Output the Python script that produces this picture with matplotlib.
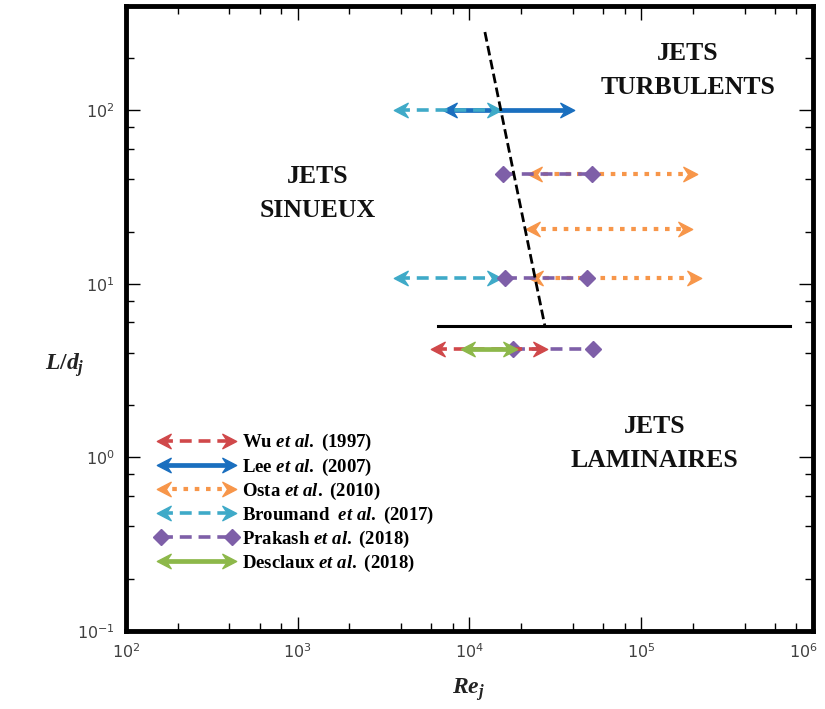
import numpy as np
import matplotlib
matplotlib.use("Agg")
import matplotlib.pyplot as plt
import matplotlib.transforms as mtransforms
from matplotlib.path import Path
from matplotlib.lines import Line2D
from matplotlib.legend_handler import HandlerBase
from matplotlib.ticker import LogLocator, NullFormatter

plt.rcParams['mathtext.fontset'] = 'custom'
plt.rcParams['mathtext.rm'] = 'Liberation Serif:bold'
plt.rcParams['mathtext.it'] = 'Liberation Serif:italic:bold'
plt.rcParams['mathtext.bf'] = 'Liberation Serif:bold'

#region Data (Re_j ranges and L/d_j levels)
wu_re = [(6300, 26800)]
wu_ld = [4.2]
lee_re = [(7400, 38500)]
lee_ld = [100]
osta_re = [(23100, 200000), (22500, 187000), (23400, 211000)]
osta_ld = [42.7, 20.8, 10.8]
broumand_re = [(3840, 14450), (3840, 14450)]
broumand_ld = [100, 10.8]
prakash_re = [(15700, 51600), (16100, 48300), (17900, 52400)]
prakash_ld = [42.7, 10.8, 4.2]
desclaux_re = [(9400, 17900)]
desclaux_ld = [4.2]

# regime boundaries
laminar_re = [6600, 740000]
laminar_ld = [5.7, 5.7]
sinuous_re = [12300, 27500]
sinuous_ld = [282, 5.7]

x_ticks = [1e2, 1e3, 1e4, 1e5, 1e6]
#endregion

#region Arrow heads
def head(direction):
    v = np.array([[-0.3, 0], [0.7, 0.52], [0.35, 0], [0.7, -0.52], [-0.3, 0]])
    v[:, 0] *= direction
    return Path(v, [Path.MOVETO, Path.LINETO, Path.LINETO, Path.LINETO, Path.CLOSEPOLY])

left_head = head(1)
right_head = head(-1)
#endregion

#region Styles
styles = {
    'Wu':       dict(color='#D0484A', lw=2.6, ls=(0, (3.3, 1.9)), heads='arrow'),
    'Lee':      dict(color='#1A6FBF', lw=3.4, ls='-', heads='arrow'),
    'Osta':     dict(color='#F7964A', lw=3.0, ls=(0, (1.1, 1.6)), heads='arrow'),
    'Broumand': dict(color='#3FAAC8', lw=2.6, ls=(0, (3.3, 1.9)), heads='arrow'),
    'Prakash':  dict(color='#7E5FA8', lw=2.6, ls=(0, (3.3, 1.9)), heads='diamond'),
    'Desclaux': dict(color='#8DB84A', lw=3.4, ls='-', heads='arrow'),
}
labels = {
    'Wu': r'Wu $et\ al.$ (1997)',
    'Lee': r'Lee $et\ al.$ (2007)',
    'Osta': r'Osta $et\ al.$ (2010)',
    'Broumand': r'Broumand  $et\ al.$ (2017)',
    'Prakash': r'Prakash $et\ al.$ (2018)',
    'Desclaux': r'Desclaux $et\ al.$ (2018)',
}

def end_markers(st):
    if st['heads'] == 'diamond':
        return ('D', 'D', 8)
    return (left_head, right_head, 14)

def draw_range(ax, x0, x1, y, st):
    ml, mr, ms = end_markers(st)
    ax.plot([x0, x1], [y, y], color=st['color'], lw=st['lw'], ls=st['ls'],
            solid_capstyle='butt', dash_capstyle='butt')
    ax.plot([x0], [y], marker=ml, ms=ms, color=st['color'], mec=st['color'], ls='none')
    ax.plot([x1], [y], marker=mr, ms=ms, color=st['color'], mec=st['color'], ls='none')

class DoubleHeadHandler(HandlerBase):
    def __init__(self, st):
        super().__init__()
        self.st = st

    def create_artists(self, legend, orig_handle, xdescent, ydescent, width, height, fontsize, trans):
        st = self.st
        ml, mr, ms = end_markers(st)
        y = height / 2 - ydescent
        x0, x1 = -xdescent, width - xdescent
        line = Line2D([x0, x1], [y, y], color=st['color'], lw=st['lw'], ls=st['ls'],
                      solid_capstyle='butt', dash_capstyle='butt')
        a = Line2D([x0], [y], marker=ml, ms=ms, color=st['color'], mec=st['color'], ls='none')
        b = Line2D([x1], [y], marker=mr, ms=ms, color=st['color'], mec=st['color'], ls='none')
        for art in (line, a, b):
            art.set_transform(trans)
        return [line, a, b]
#endregion

#region Figure
fig = plt.figure(figsize=(8.25, 7.09), dpi=100)
ax = fig.add_axes([0.1527, 0.110, 0.8327, 0.8815])
ax.set_xscale('log')
ax.set_yscale('log')

series = [
    ('Lee', lee_re, lee_ld),
    ('Broumand', broumand_re, broumand_ld),
    ('Osta', osta_re, osta_ld),
    ('Prakash', prakash_re, prakash_ld),
    ('Wu', wu_re, wu_ld),
    ('Desclaux', desclaux_re, desclaux_ld),
]
for name, res, lds in series:
    for (r0, r1), ld in zip(res, lds):
        draw_range(ax, r0, r1, ld, styles[name])

ax.plot(laminar_re, laminar_ld, color='black', lw=2.2, zorder=4)
ax.plot(sinuous_re, sinuous_ld, color='black', lw=2.0, ls=(0, (3.5, 1.6)), zorder=4)

txt = dict(family='Liberation Serif', fontweight='bold', fontsize=18.5,
           ha='center', va='center', linespacing=1.6, color='#111111')
ax.text(1.87e5, 170, 'JETS\nTURBULENTS', **txt)
ax.text(1310, 33, 'JETS\nSINUEUX', **txt)
ax.text(1.2e5, 1.2, 'JETS\nLAMINAIRES', **txt)

# axes styling
for sp in ax.spines.values():
    sp.set_linewidth(3.5)
ax.set_xticks(x_ticks)
ax.xaxis.set_minor_locator(LogLocator(base=10, subs=[2, 4, 6, 8]))
ax.yaxis.set_minor_locator(LogLocator(base=10, subs=[2, 4, 6, 8]))
ax.xaxis.set_minor_formatter(NullFormatter())
ax.yaxis.set_minor_formatter(NullFormatter())
ax.set_xlim(1e2, 1e6)
ax.set_ylim(1e-1, 10 ** 2.6)
ax.tick_params(which='both', direction='in', top=True, right=True, width=1.0,
               labelsize=11.5, labelcolor='#404040')
ax.tick_params(which='major', length=10, pad=8)
ax.tick_params(which='minor', length=6)

# keep the last x tick label inside the figure
last = ax.xaxis.get_major_ticks()[-1].label1
last.set_transform(last.get_transform() +
                   mtransforms.ScaledTranslation(-7 / 72, 0, fig.dpi_scale_trans))

ax.set_xlabel(r'$Re_j$', fontsize=17, color='#222222')
ax.xaxis.set_label_coords(0.498, -0.072)
ax.set_ylabel(r'$L/d_j$', fontsize=17, rotation=0, color='#222222', va='center', ha='center')
ax.yaxis.set_label_coords(-0.089, 0.426)

# legend
order = ['Wu', 'Lee', 'Osta', 'Broumand', 'Prakash', 'Desclaux']
proxies = [Line2D([], []) for _ in order]
hmap = {p: DoubleHeadHandler(styles[n]) for p, n in zip(proxies, order)}
ax.legend(proxies, [labels[n] for n in order], handler_map=hmap,
          loc='upper left', bbox_to_anchor=(0.04, 0.33), frameon=False,
          prop=dict(family='Liberation Serif', weight='bold', size=13.5),
          handlelength=3.8, handletextpad=0.5, labelspacing=0.16, borderaxespad=0)

fig.savefig('out.png', dpi=100)
#endregion
